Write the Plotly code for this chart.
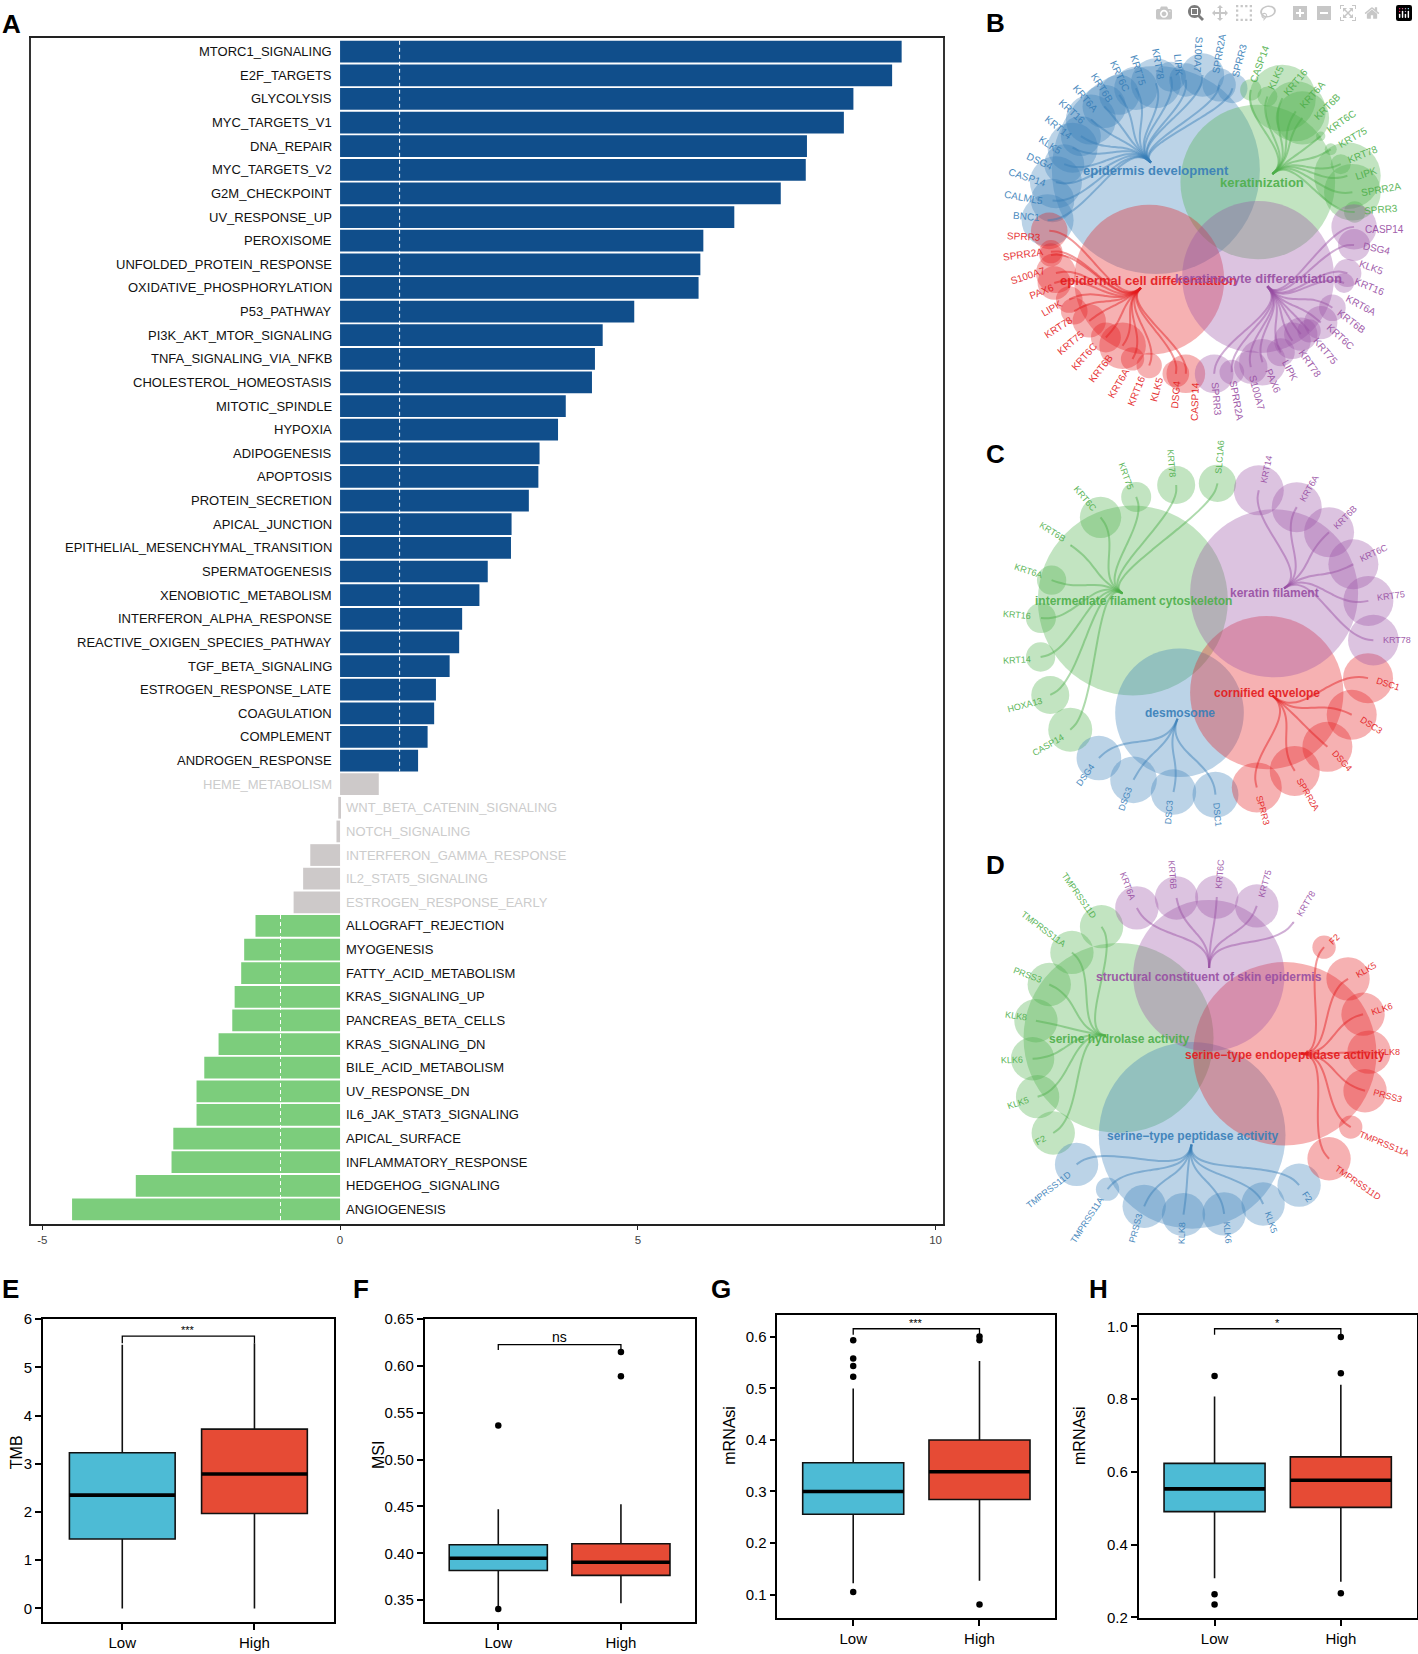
import numpy as np
import plotly.graph_objects as go

W, H = 1418, 1654
SANS = "Liberation Sans"

# ---------- Panel A data ----------
PATHWAYS_SIG_UP = ["MTORC1_SIGNALING","E2F_TARGETS","GLYCOLYSIS","MYC_TARGETS_V1","DNA_REPAIR","MYC_TARGETS_V2",
    "G2M_CHECKPOINT","UV_RESPONSE_UP","PEROXISOME","UNFOLDED_PROTEIN_RESPONSE","OXIDATIVE_PHOSPHORYLATION",
    "P53_PATHWAY","PI3K_AKT_MTOR_SIGNALING","TNFA_SIGNALING_VIA_NFKB","CHOLESTEROL_HOMEOSTASIS","MITOTIC_SPINDLE",
    "HYPOXIA","ADIPOGENESIS","APOPTOSIS","PROTEIN_SECRETION","APICAL_JUNCTION","EPITHELIAL_MESENCHYMAL_TRANSITION",
    "SPERMATOGENESIS","XENOBIOTIC_METABOLISM","INTERFERON_ALPHA_RESPONSE","REACTIVE_OXIGEN_SPECIES_PATHWAY",
    "TGF_BETA_SIGNALING","ESTROGEN_RESPONSE_LATE","COAGULATION","COMPLEMENT","ANDROGEN_RESPONSE"]
VALUES_SIG_UP = [9.43,9.27,8.62,8.46,7.84,7.82,7.40,6.62,6.10,6.05,6.02,4.94,4.41,4.28,4.23,3.79,3.66,3.35,3.33,
    3.17,2.88,2.87,2.48,2.34,2.05,2.00,1.84,1.61,1.58,1.47,1.31]
PATHWAYS_NS = ["HEME_METABOLISM","WNT_BETA_CATENIN_SIGNALING","NOTCH_SIGNALING","INTERFERON_GAMMA_RESPONSE",
    "IL2_STAT5_SIGNALING","ESTROGEN_RESPONSE_EARLY"]
VALUES_NS = [0.65,-0.03,-0.06,-0.50,-0.62,-0.78]
PATHWAYS_SIG_DOWN = ["ALLOGRAFT_REJECTION","MYOGENESIS","FATTY_ACID_METABOLISM","KRAS_SIGNALING_UP","PANCREAS_BETA_CELLS",
    "KRAS_SIGNALING_DN","BILE_ACID_METABOLISM","UV_RESPONSE_DN","IL6_JAK_STAT3_SIGNALING","APICAL_SURFACE",
    "INFLAMMATORY_RESPONSE","HEDGEHOG_SIGNALING","ANGIOGENESIS"]
VALUES_SIG_DOWN = [-1.42,-1.61,-1.66,-1.77,-1.81,-2.04,-2.28,-2.41,-2.41,-2.80,-2.83,-3.43,-4.50]
X_TICKS_A = [-5,0,5,10]

# ---------- Box panels: (q1, median, q3, low whisker, high whisker) for Low, High ----------
E_LOW = [1.44,2.35,3.23,0.0,5.47];        E_HIGH = [1.97,2.79,3.72,0.0,5.50]
F_LOW = [.3817,.3947,.4091,.3435,.4471];  F_HIGH = [.3764,.3905,.4102,.3468,.4524]
G_LOW = [.2556,.2998,.3555,.1218,.4995];  G_HIGH = [.2844,.3382,.3997,.1269,.5527]
H_LOW = [.4906,.5533,.6233,.3071,.8077];  H_HIGH = [.5024,.5769,.6414,.2981,.8395]
E_OUT = [[], []]
F_OUT = [[.5365,.3405], [.6149,.5892]]
G_OUT = [[.593,.5577,.543,.5225,.105], [.6006,.593,.0808]]
H_OUT = [[.8639,.2636,.2355], [.9709,.871,.2663]]
GROUPS = ["Low","High"]

# ---------- Network panels: (gene, x, y, r, label x, label y, label angle) ----------
B_BLUE = [("BNC1",265,640,78,203,630,5),("CALML5",280,580,65,192,572,10),("CASP14",290,525,78,205,510,18),
 ("DSG4",315,470,60,243,462,25),("KLK5",340,420,75,275,412,33),("KRT14",365,385,60,298,358,38),("KRT16",395,335,75,337,312,42),
 ("KRT6A",435,295,65,378,272,50),("KRT6B",480,260,60,428,238,58),("KRT6C",530,240,65,482,205,65),("KRT75",590,225,75,538,185,73),
 ("KRT78",635,205,45,597,165,80),("LIPK",680,215,50,658,168,85),("S100A7",730,200,65,718,140,93),("SPRR2A",780,230,50,780,135,-80),
 ("SPRR3",820,240,45,840,155,-75)]
B_GREEN = [("CASP14",875,245,32,902,165,-70),("KLK5",925,265,30,950,207,-65),("KRT16",970,270,100,1008,222,-50),
 ("KRT6A",1010,310,90,1060,258,-48),("KRT6B",1030,330,80,1105,295,-45),("KRT6C",1085,385,14,1147,340,-35),("KRT75",1115,425,18,1180,388,-30),
 ("KRT78",1145,470,30,1210,440,-22),("LIPK",1165,505,100,1220,497,-18),("SPRR2A",1180,555,85,1265,548,-10),("SPRR3",1187,615,32,1265,606,-5)]
B_PURPLE = [("CASP14",1185,660,68,1275,667,0),("DSG4",1185,715,48,1253,725,12),("KLK5",1165,800,42,1238,782,20),("KRT16",1155,830,30,1231,840,22),
 ("KRT6A",1120,905,40,1207,897,28),("KRT6B",1085,950,50,1177,948,37),("KRT6C",1050,975,35,1143,993,42),("KRT75",1025,985,50,1098,1035,50),
 ("KRT78",1000,1005,55,1052,1075,55),("LIPK",965,1040,42,993,1095,62),("PAX6",910,1070,70,942,1125,67),("S100A7",875,1085,50,893,1162,75),
 ("SPRR2A",818,1100,37,833,1185,80),("SPRR3",765,1105,58,772,1183,85)]
B_RED = [("CASP14",680,1105,58,708,1190,-88),("DSG4",650,1105,40,650,1168,-85),("KLK5",570,1080,38,592,1152,-75),("KRT16",520,1060,35,533,1157,-68),
 ("KRT6A",490,1020,70,477,1133,-60),("KRT6B",440,995,45,425,1090,-52),("KRT6C",390,945,50,375,1053,-48),("KRT75",345,915,40,335,1010,-40),
 ("KRT78",330,880,40,297,965,-33),("LIPK",285,830,50,277,908,-30),("PAX6",290,800,60,247,855,-22),("S100A7",275,745,35,207,808,-18),
 ("SPRR2A",275,735,35,190,745,-8),("SPRR3",270,672,55,193,690,3)]
B_TERMS = [("epidermis development",590,488,312,575,465,590,488),("keratinization",896,524,232,940,500,908,525),
 ("epidermal cell differentiation",570,820,225,545,845,567,823),("keratinocyte differentiation",897,812,228,925,840,898,816)]

C_GREEN = [("SLC1A6",775,147,56,782,67,-85),("KRT78",651,152,57,637,85,85),("KRT75",531,188,45,500,125,70),("KRT6C",424,250,62,378,195,50),
 ("KRT6B",335,335,3,280,295,32),("KRT6A",277,440,44,208,413,18),("KRT16",245,555,45,174,546,5),("KRT14",244,673,44,172,682,-3),
 ("HOXA13",273,788,57,197,817,-15),("CASP14",333,893,66,267,940,-30)]
C_BLUE = [("DSG4",419,979,67,378,1030,-55),("DSG3",523,1045,70,498,1103,-70),("DSC3",643,1082,68,630,1143,-85),("DSC1",769,1090,69,773,1150,85)]
C_RED = [("SPRR3",893,1068,75,913,1138,75),("SPRR2A",1007,1018,75,1048,1090,60),("DSG4",1105,945,75,1150,987,48),("DSC3",1178,848,75,1235,880,33),
 ("DSC1",1227,737,75,1287,755,18)]
C_PURPLE = [("KRT14",899,168,75,922,103,-78),("KRT6A",1013,219,75,1052,162,-60),("KRT6B",1110,295,75,1160,250,-45),("KRT6C",1183,392,75,1245,358,-25),
 ("KRT75",1228,503,75,1295,488,-8),("KRT78",1243,622,76,1313,622,0)]
C_TERMS = [("intermediate filament cytoskeleton",521,502,285,490,480,522,503),("desmosome",661,842,193,655,860,662,843),
 ("cornified envelope",923,781,230,940,790,923,782),("keratin filament",945,480,252,975,465,945,480)]

D_GREEN = [("F2",282,885,65,245,905,-28),("KLK5",235,775,65,177,793,-18),("KLK6",220,660,65,157,663,-2),("KLK8",230,545,65,170,532,8),
 ("PRSS3",270,435,65,205,405,20),("TMPRSS11A",338,338,65,252,267,37),("TMPRSS11D",427,260,65,360,167,55)]
D_BLUE = [("TMPRSS11D",352,980,65,268,1057,-38),("TMPRSS11A",445,1055,35,383,1147,-57),("PRSS3",555,1107,65,530,1173,-75),("KLK8",673,1132,65,667,1190,-88),
 ("KLK6",795,1130,65,805,1188,85),("KLK5",912,1100,65,935,1155,72),("F2",1020,1043,65,1045,1078,55)]
D_RED = [("TMPRSS11D",1110,963,65,1197,1037,35),("TMPRSS11A",1175,867,35,1277,917,22),("PRSS3",1218,757,65,1288,772,15),("KLK8",1230,640,65,1290,640,0),
 ("KLK6",1212,525,65,1270,510,-18),("KLK5",1167,418,65,1220,390,-30),("F2",1095,322,35,1127,297,-45)]
D_PURPLE = [("KRT6A",533,203,65,505,137,70),("KRT6B",652,173,65,640,103,85),("KRT6C",773,170,65,782,100,-85),("KRT75",893,197,65,917,130,-75),
 ("KRT78",1003,247,3,1040,190,-60)]
D_TERMS = [("serine hydrolase activity",478,597,285,440,590,478,600),("serine\u2212type peptidase activity",699,892,280,697,920,699,893),
 ("serine\u2212type endopeptidase activity",977,645,275,1025,645,977,648),("structural constituent of skin epidermis",749,408,227,750,385,749,412)]

BLUE, GREEN, RED, PURPLE = "#377EB8", "#4DAF4A", "#E41A1C", "#984EA3"

fig = go.Figure()
ann = []
layout = {}

def dom_x(a, b): return [a / W, b / W]
def dom_y(top, bot): return [1 - bot / H, 1 - top / H]

# ---------- Panel A ----------
names = PATHWAYS_SIG_UP + PATHWAYS_NS + PATHWAYS_SIG_DOWN
vals = VALUES_SIG_UP + VALUES_NS + VALUES_SIG_DOWN
n1, n2 = len(PATHWAYS_SIG_UP), len(PATHWAYS_NS)
colors = ["#104E8B"] * n1 + ["#CDC9C9"] * n2 + ["#7CCD7C"] * len(PATHWAYS_SIG_DOWN)
fig.add_trace(go.Bar(x=vals, y=list(range(len(vals))), orientation="h", width=0.92,
                     marker=dict(color=colors, line_width=0), showlegend=False))
layout["xaxis"] = dict(domain=dom_x(31, 944), range=[-5.19, 10.13], tickmode="array", tickvals=X_TICKS_A,
                       ticktext=[str(v) for v in X_TICKS_A], ticks="outside", ticklen=4, tickcolor="#222", tickwidth=1,
                       tickfont=dict(family=SANS, size=11.5, color="#444"), showgrid=False, zeroline=False,
                       showline=True, linecolor="#222", linewidth=2, mirror=True, anchor="y")
layout["yaxis"] = dict(domain=dom_y(29, 1227), range=[49.62, -0.59], visible=True, showticklabels=False, ticks="",
                       showgrid=False, zeroline=False, showline=True, linecolor="#333", linewidth=1.5, mirror=True, anchor="x")
for xv, y0, y1 in [(1, -0.46, n1 - 0.54), (-1, n1 + n2 - 0.46, len(vals) - 0.54)]:
    fig.add_trace(go.Scatter(x=[xv, xv], y=[y0, y1], mode="lines", showlegend=False,
                             line=dict(color="white", width=1, dash="4px,3px")))
for i, (nm, v) in enumerate(zip(names, vals)):
    col = "#CCCCCC" if n1 <= i < n1 + n2 else "#111111"
    ann.append(dict(x=0, y=i, xref="x", yref="y", text=nm, showarrow=False,
                    xanchor="right" if v > 0 else "left", xshift=-6 if v > 0 else 4,
                    font=dict(family=SANS, size=13, color=col)))

# ---------- Boxes ----------
def box_panel(k, low, high, outs, l, r, t, b, yr, ticks, ticktxt, title, tx, br, tip, sig, sigsize, sigy):
    xa, ya = f"x{k}", f"y{k}"
    for i, (st, col) in enumerate([(low, "#4DBBD5"), (high, "#E64B35")]):
        fig.add_trace(go.Box(x=[i], q1=[st[0]], median=[st[1]], q3=[st[2]], lowerfence=[st[3]], upperfence=[st[4]],
                             width=0.8, fillcolor=col, line=dict(color="#111", width=1.6), whiskerwidth=0,
                             boxpoints=False, showlegend=False, xaxis=xa, yaxis=ya))
        fig.add_trace(go.Scatter(x=[i - 0.4, i + 0.4], y=[st[1], st[1]], mode="lines", line=dict(color="black", width=3.6),
                                 showlegend=False, xaxis=xa, yaxis=ya))
        if outs[i]:
            fig.add_trace(go.Scatter(x=[i] * len(outs[i]), y=outs[i], mode="markers", marker=dict(color="black", size=6.5),
                                     showlegend=False, xaxis=xa, yaxis=ya))
    fig.add_trace(go.Scatter(x=[0, 0, 1, 1], y=[tip, br, br, tip], mode="lines", line=dict(color="black", width=1.3),
                             showlegend=False, xaxis=xa, yaxis=ya))
    ann.append(dict(x=0.5, y=sigy, xref=xa, yref=ya, text=sig, showarrow=False, yanchor="middle",
                    font=dict(family=SANS, size=sigsize, color="black")))
    layout[f"xaxis{k}"] = dict(domain=dom_x(l, r), range=[-0.6, (r - l) / ((r - l) / 2.2) - 0.6 if k != 5 else 1.6], tickmode="array", tickvals=[0, 1],
                               ticktext=GROUPS, ticks="outside", ticklen=6, tickcolor="black", tickwidth=1.6,
                               tickfont=dict(family=SANS, size=15, color="black"), showgrid=False, zeroline=False,
                               showline=True, linecolor="black", linewidth=1.8, mirror=True, anchor=ya)
    layout[f"yaxis{k}"] = dict(domain=dom_y(t, b), range=yr, tickmode="array", tickvals=ticks, ticktext=ticktxt,
                               ticks="outside", ticklen=6, tickcolor="black", tickwidth=1.6,
                               tickfont=dict(family=SANS, size=15, color="black"), showgrid=False, zeroline=False,
                               showline=True, linecolor="black", linewidth=1.8, mirror=True, anchor=xa)
    ann.append(dict(x=tx / W, y=1 - (t + b) / 2 / H, xref="paper", yref="paper", text=title, textangle=-90, showarrow=False,
                    font=dict(family=SANS, size=16, color="black")))

box_panel(2, E_LOW, E_HIGH, E_OUT, 43, 334, 1323, 1629, [-0.287, 6], [0,1,2,3,4,5,6], list("0123456"), "TMB", 6, 5.65, 5.5, "***", 11, 5.78)
box_panel(3, F_LOW, F_HIGH, F_OUT, 425, 695, 1323, 1629, [0.3264, 0.65], [.35,.40,.45,.50,.55,.60,.65],
          ["0.35","0.40","0.45","0.50","0.55","0.60","0.65"], "MSI", 368, .6229, .617, "ns", 14, .6305)
box_panel(4, G_LOW, G_HIGH, G_OUT, 778, 1056, 1319, 1625, [0.0539, 0.6416], [.1,.2,.3,.4,.5,.6],
          ["0.1","0.2","0.3","0.4","0.5","0.6"], "mRNAsi", 730, .6154, .604, "***", 11, .6265)
box_panel(5, H_LOW, H_HIGH, H_OUT, 1139.6, 1417.6, 1319, 1625, [0.1973, 1.0309], [.2,.4,.6,.8,1.0],
          ["0.2","0.4","0.6","0.8","1.0"], "mRNAsi", 1091, .9937, .977, "*", 11, 1.009)

# ---------- Networks ----------
def connector(hub, end, c, m=14):
    hub, end, c = map(np.asarray, (hub, end, c))
    d0, d1 = hub - c, end - c
    r0, r1 = np.hypot(*d0), np.hypot(*d1)
    rm = (r0 + r1) / 2
    p1 = c + d0 / r0 * rm
    p2 = c + d1 / r1 * rm
    t = np.linspace(0, 1, m)[:, None]
    return (1-t)**3 * hub + 3*(1-t)**2*t * p1 + 3*(1-t)*t**2 * p2 + t**3 * end

def network(k, x0, y0, w, h, groups, terms, center, gene_size, term_size):
    xa, ya = f"x{k}", f"y{k}"
    layout[f"xaxis{k}"] = dict(domain=dom_x(x0, x0 + w), range=[0, w * 3], visible=False, anchor=ya)
    layout[f"yaxis{k}"] = dict(domain=dom_y(y0, y0 + h), range=[h * 3, 0], visible=False, anchor=xa)
    for (nodes, col), term in zip(groups, terms):
        rx = [term[1]] + [n[1] for n in nodes]
        ry = [term[2]] + [n[2] for n in nodes]
        rr = [term[3]] + [n[3] for n in nodes]
        fig.add_trace(go.Scatter(x=rx, y=ry, mode="markers", cliponaxis=False, showlegend=False, xaxis=xa, yaxis=ya,
                                 marker=dict(color=col, opacity=0.34, line_width=0, size=[2 * r / 3 for r in rr], sizemode="diameter", sizeref=1)))
    for (nodes, col), term in zip(groups, terms):
        for n in nodes:
            pts = connector((term[4], term[5]), (n[1], n[2]), center)
            fig.add_trace(go.Scatter(x=pts[:, 0], y=pts[:, 1], mode="lines", cliponaxis=False, showlegend=False, xaxis=xa, yaxis=ya,
                                     opacity=0.45, line=dict(color=col, width=2, shape="spline")))
        for n in nodes:
            ann.append(dict(x=n[4], y=n[5], xref=xa, yref=ya, text=n[0], textangle=n[6], showarrow=False,
                            font=dict(family=SANS, size=gene_size, color=col), opacity=0.9))
    for (nodes, col), term in zip(groups, terms):
        ann.append(dict(x=term[6], y=term[7], xref=xa, yref=ya, text=f"<b>{term[0]}</b>", showarrow=False,
                        font=dict(family=SANS, size=term_size, color=col), opacity=0.9))

network(6, 960, 0, 458, 430, [(B_BLUE, BLUE), (B_GREEN, GREEN), (B_RED, RED), (B_PURPLE, PURPLE)], B_TERMS, (765, 655), 10, 13)
network(7, 960, 430, 458, 410, [(C_GREEN, GREEN), (C_BLUE, BLUE), (C_RED, RED), (C_PURPLE, PURPLE)], C_TERMS, (745, 625), 9, 12)
network(8, 960, 840, 458, 420, [(D_GREEN, GREEN), (D_BLUE, BLUE), (D_RED, RED), (D_PURPLE, PURPLE)], D_TERMS, (745, 640), 9, 12)

for letter, x, y in [("A", 0, 15), ("B", 985, 14), ("C", 985, 449), ("D", 985, 864),
                     ("E", 0, 1292), ("F", 351, 1292), ("G", 709, 1292), ("H", 1088, 1292)]:
    ann.append(dict(x=x / W, y=1 - y / H, xref="paper", yref="paper", text=f"<b>{letter}</b>", showarrow=False,
                    xanchor="left", yanchor="middle", font=dict(family=SANS, size=26, color="black")))

fig.update_layout(width=W, height=H, margin=dict(l=0, r=0, t=0, b=0, pad=0), paper_bgcolor="white", plot_bgcolor="white",
                  showlegend=False, boxmode="overlay", barmode="overlay", annotations=ann, **layout)
fig.write_html("out.html", post_script="document.body.style.margin='0';")
